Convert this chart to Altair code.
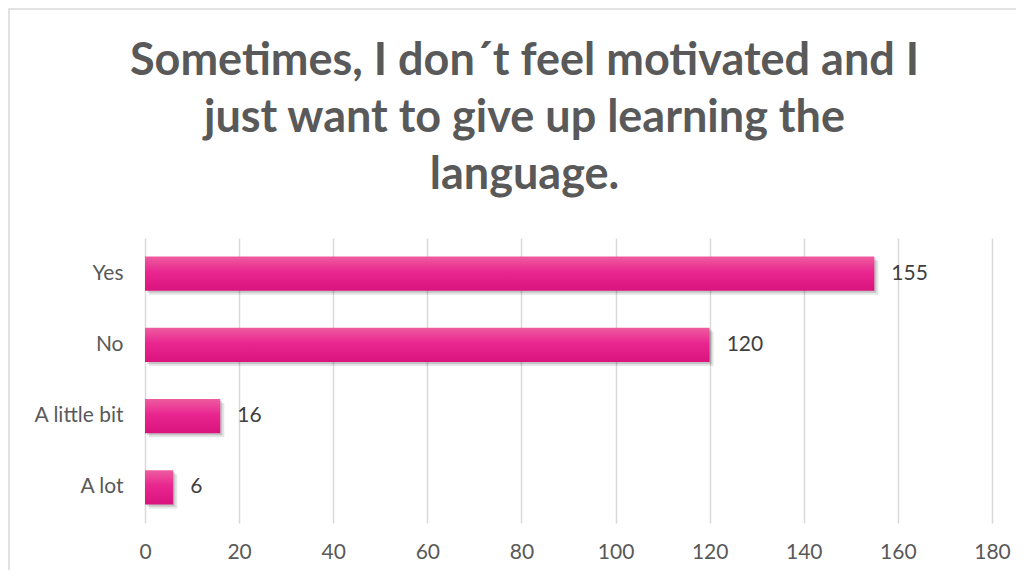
import altair as alt
import pandas as pd

categories = ["Yes", "No", "A little bit", "A lot"]
counts = [155, 120, 16, 6]
x_ticks = [0, 20, 40, 60, 80, 100, 120, 140, 160, 180]

df = pd.DataFrame({"answer": categories, "count": counts})

title_lines = ["Sometimes, I don´t feel motivated and I",
               "just want to give up learning the",
               "language."]

FONT = "Lato"

y_enc = alt.Y("answer:N", sort=categories, title=None,
              scale=alt.Scale(paddingInner=0.52, paddingOuter=0.26),
              axis=alt.Axis(labelFontSize=21, labelColor="#595959", labelFont=FONT,
                            labelPadding=22, ticks=False, domain=False, grid=False))
x_enc = alt.X("count:Q", title=None,
              scale=alt.Scale(domain=[0, 180], nice=False),
              axis=alt.Axis(values=x_ticks, labelFontSize=21, labelColor="#595959",
                            labelFont=FONT, labelPadding=18, labelFlush=False,
                            ticks=False, domain=False,
                            grid=True, gridColor="#d9d9d9", gridWidth=1.5))

base = alt.Chart(df)

shadow1 = base.mark_bar(color="#000000", opacity=0.10, xOffset=4, yOffset=4).encode(x=x_enc, y=y_enc)
shadow2 = base.mark_bar(color="#000000", opacity=0.14, xOffset=2, yOffset=2).encode(x=x_enc, y=y_enc)

bars = base.mark_bar(
    color=alt.Gradient(
        gradient="linear", x1=0, y1=0, x2=0, y2=1,
        stops=[alt.GradientStop(offset=0, color="#EE5C9F"),
               alt.GradientStop(offset=0.45, color="#E92690"),
               alt.GradientStop(offset=1, color="#DA137D")]
    )
).encode(x=x_enc, y=y_enc)

labels = base.mark_text(align="left", baseline="middle", dx=17, fontSize=21,
                        font=FONT, color="#404040").encode(
    x="count:Q", y=alt.Y("answer:N", sort=categories), text="count:Q")

one = pd.DataFrame({"a": [0]})

frame = alt.Chart(one).mark_rect(
    fill=None, stroke="#d9d9d9", strokeWidth=1.5).encode(
    x=alt.value(-136), x2=alt.value(900), y=alt.value(-229), y2=alt.value(360))

title = alt.Chart(one).mark_text(
    text="\n".join(title_lines), lineBreak="\n", lineHeight=57,
    align="center", baseline="alphabetic", fontSize=45, fontWeight="bold",
    font=FONT, color="#595959").encode(
    x=alt.value(379.5), y=alt.value(-163))

chart = alt.layer(frame, shadow1, shadow2, bars, labels, title).properties(
    width=847, height=285,
    padding={"left": 137, "top": 230, "right": 24, "bottom": 47},
    autosize=alt.AutoSizeParams(type="none"),
).configure_view(stroke=None).configure_axis(labelFont=FONT)

chart.save("out.html", embed_options={"renderer": "svg", "actions": False})
